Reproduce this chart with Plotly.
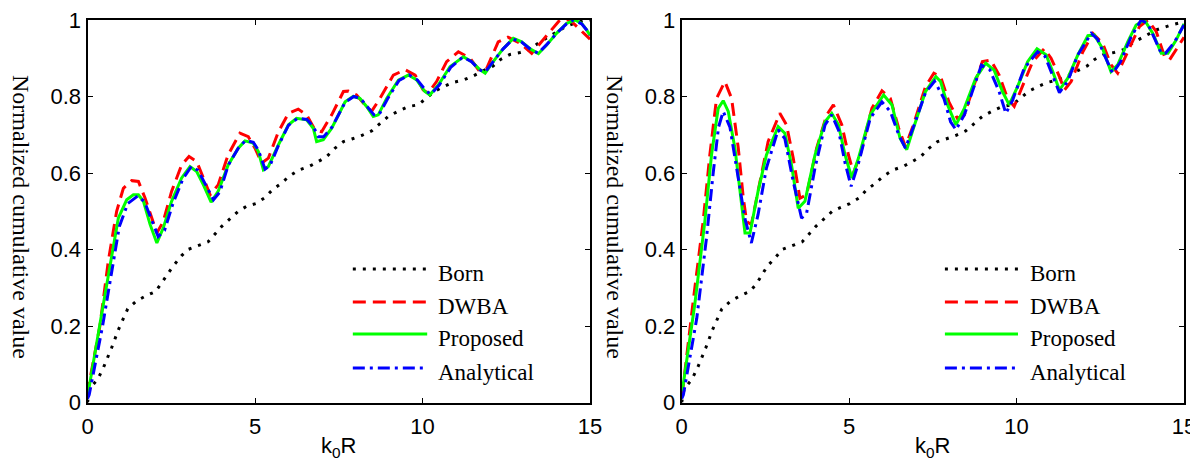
import plotly.graph_objects as go

# ---------------- data ----------------
# Left panel
born_k_l = [0, 0.07, 0.3, 0.47, 0.72, 0.92, 1.2, 1.47, 1.77, 2.03, 2.23, 2.56, 2.81, 3.0, 3.3, 3.6, 3.8, 4.0, 4.25, 4.5, 4.75,
            5.02, 5.3, 5.52, 5.8, 6.01, 6.31, 6.61, 6.89, 7.14, 7.39, 7.64, 7.89, 8.18, 8.48, 8.73, 8.98, 9.28, 9.58, 9.87,
            10.12, 10.37, 10.64, 10.92, 11.22, 11.52, 11.81, 12.11, 12.33, 12.61, 12.91, 13.21, 13.46, 13.75, 14.05, 14.3,
            14.6, 14.85, 15]
born_v_l = [0, 0.037, 0.06, 0.09, 0.143, 0.19, 0.245, 0.266, 0.28, 0.29, 0.315, 0.357, 0.384, 0.40, 0.41, 0.42, 0.44, 0.46,
            0.48, 0.50, 0.513, 0.52, 0.536, 0.556, 0.574, 0.591, 0.608, 0.617, 0.63, 0.643, 0.665, 0.682, 0.689, 0.698, 0.71,
            0.73, 0.748, 0.762, 0.774, 0.778, 0.795, 0.814, 0.826, 0.837, 0.843, 0.854, 0.867, 0.88, 0.897, 0.91, 0.915,
            0.923, 0.94, 0.955, 0.97, 0.984, 0.993, 1.0, 1.0]

dwba_k_l = [0, 0.03, 0.37, 0.62, 0.87, 1.07, 1.32, 1.52, 1.72, 1.92, 2.07, 2.26, 2.51, 2.81, 3.03, 3.26, 3.46, 3.66, 3.9, 4.2,
            4.55, 4.8, 5.0, 5.2, 5.4, 5.7, 6.0, 6.29, 6.54, 6.79, 6.99, 7.29, 7.64, 7.79, 8.03, 8.28, 8.48, 8.73, 9.13, 9.48,
            9.78, 10.02, 10.17, 10.42, 10.72, 11.07, 11.42, 11.67, 11.92, 12.26, 12.55, 12.9, 13.26, 13.71, 14.1, 14.4, 14.7,
            14.9, 15]
dwba_v_l = [0.02, 0.04, 0.20, 0.369, 0.50, 0.56, 0.58, 0.578, 0.534, 0.482, 0.443, 0.473, 0.552, 0.621, 0.643, 0.63, 0.587,
            0.543, 0.569, 0.648, 0.704, 0.695, 0.665, 0.626, 0.639, 0.708, 0.756, 0.767, 0.752, 0.713, 0.708, 0.752, 0.813,
            0.814, 0.804, 0.778, 0.761, 0.795, 0.856, 0.87, 0.856, 0.817, 0.809, 0.839, 0.891, 0.917, 0.9, 0.87, 0.874,
            0.943, 0.955, 0.94, 0.913, 0.96, 1.0, 1.0, 0.974, 0.957, 0.95]

prop_k_l = [0, 0.03, 0.42, 0.72, 0.92, 1.17, 1.37, 1.52, 1.67, 1.87, 2.07, 2.26, 2.51, 2.81, 3.06, 3.26, 3.46, 3.69, 3.9, 4.2,
            4.5, 4.7, 4.95, 5.1, 5.25, 5.4, 5.7, 6.0, 6.24, 6.54, 6.74, 6.84, 7.04, 7.29, 7.69, 7.93, 8.13, 8.33, 8.53, 8.68,
            8.93, 9.28, 9.58, 9.83, 10.07, 10.22, 10.47, 10.82, 11.22, 11.47, 11.72, 11.87, 12.11, 12.41, 12.71, 12.96, 13.21,
            13.46, 13.71, 14.0, 14.3, 14.55, 14.75, 14.9, 15]
prop_v_l = [0.02, 0.03, 0.23, 0.386, 0.482, 0.53, 0.543, 0.543, 0.526, 0.465, 0.417, 0.456, 0.526, 0.587, 0.617, 0.604, 0.569,
            0.524, 0.552, 0.621, 0.665, 0.684, 0.678, 0.656, 0.608, 0.617, 0.674, 0.726, 0.743, 0.739, 0.717, 0.682, 0.687,
            0.717, 0.786, 0.80, 0.795, 0.774, 0.748, 0.752, 0.795, 0.843, 0.856, 0.843, 0.813, 0.804, 0.83, 0.878, 0.904,
            0.891, 0.87, 0.861, 0.891, 0.925, 0.952, 0.943, 0.925, 0.912, 0.935, 0.965, 0.991, 1.0, 0.991, 0.974, 0.96]

anal_k_l = [0, 0.05, 0.45, 0.75, 0.95, 1.2, 1.5, 1.7, 1.9, 2.11, 2.3, 2.55, 2.85, 3.1, 3.3, 3.5, 3.76, 3.95, 4.2, 4.5, 4.72,
            4.95, 5.1, 5.3, 5.45, 5.7, 6.0, 6.27, 6.55, 6.75, 6.89, 7.05, 7.3, 7.69, 7.95, 8.15, 8.35, 8.55, 8.7, 8.95, 9.3,
            9.6, 9.85, 10.1, 10.25, 10.5, 10.85, 11.2, 11.45, 11.7, 11.87, 12.1, 12.4, 12.7, 12.95, 13.2, 13.45, 13.7, 14.0,
            14.3, 14.5, 14.75, 14.9, 15]
anal_v_l = [0.01, 0.02, 0.2, 0.36, 0.46, 0.52, 0.54, 0.525, 0.48, 0.434, 0.45, 0.52, 0.585, 0.617, 0.607, 0.575, 0.53, 0.55,
            0.62, 0.665, 0.685, 0.68, 0.66, 0.61, 0.62, 0.672, 0.725, 0.743, 0.74, 0.72, 0.695, 0.695, 0.72, 0.785, 0.80,
            0.795, 0.775, 0.752, 0.752, 0.793, 0.842, 0.856, 0.843, 0.815, 0.806, 0.83, 0.877, 0.903, 0.892, 0.87, 0.864,
            0.89, 0.924, 0.95, 0.943, 0.925, 0.913, 0.935, 0.965, 0.99, 1.0, 0.99, 0.974, 0.96]

# Right panel
born_k_r = [0, 0.07, 0.3, 0.47, 0.72, 0.92, 1.2, 1.47, 1.77, 2.03, 2.23, 2.56, 2.81, 3.0, 3.3, 3.6, 3.8, 4.0, 4.25, 4.5, 4.75,
            5.02, 5.3, 5.52, 5.8, 6.01, 6.31, 6.61, 6.89, 7.14, 7.39, 7.64, 7.89, 8.18, 8.48, 8.73, 8.98, 9.28, 9.58, 9.87,
            10.12, 10.37, 10.64, 10.92, 11.22, 11.52, 11.81, 12.11, 12.33, 12.61, 12.91, 13.21, 13.46, 13.82, 14.17, 14.62, 15]
born_v_r = [0, 0.035, 0.06, 0.09, 0.143, 0.19, 0.245, 0.266, 0.28, 0.29, 0.31, 0.357, 0.38, 0.40, 0.41, 0.42, 0.44, 0.46,
            0.48, 0.50, 0.51, 0.52, 0.535, 0.556, 0.574, 0.591, 0.608, 0.617, 0.63, 0.643, 0.665, 0.682, 0.689, 0.698, 0.71,
            0.73, 0.748, 0.762, 0.774, 0.778, 0.795, 0.814, 0.826, 0.837, 0.843, 0.854, 0.867, 0.88, 0.897, 0.91, 0.915,
            0.923, 0.94, 0.958, 0.974, 0.987, 0.995]

dwba_k_r = [0, 0.04, 0.35, 0.64, 0.84, 1.04, 1.29, 1.49, 1.69, 1.84, 1.94, 2.08, 2.34, 2.58, 2.93, 3.13, 3.33, 3.53, 3.73, 4.03,
            4.33, 4.53, 4.78, 4.98, 5.13, 5.33, 5.68, 5.98, 6.23, 6.48, 6.68, 6.92, 7.28, 7.53, 7.73, 7.98, 8.23, 8.44, 8.73,
            8.98, 9.23, 9.48, 9.73, 9.93, 10.13, 10.48, 10.83, 11.03, 11.28, 11.43, 11.63, 11.98, 12.28, 12.57, 12.82, 13.02,
            13.32, 13.67, 13.92, 14.17, 14.42, 14.57, 14.82, 15]
dwba_v_r = [0.02, 0.04, 0.27, 0.473, 0.647, 0.795, 0.839, 0.795, 0.665, 0.534, 0.473, 0.465, 0.578, 0.682, 0.756, 0.726, 0.639,
            0.534, 0.543, 0.665, 0.752, 0.778, 0.726, 0.647, 0.60, 0.647, 0.769, 0.815, 0.795, 0.717, 0.669, 0.726, 0.826,
            0.861, 0.852, 0.786, 0.743, 0.752, 0.83, 0.891, 0.895, 0.856, 0.795, 0.774, 0.817, 0.891, 0.925, 0.9, 0.852,
            0.817, 0.839, 0.917, 0.965, 0.939, 0.883, 0.861, 0.917, 0.983, 1.0, 0.97, 0.904, 0.896, 0.93, 0.955]

prop_k_r = [0, 0.04, 0.39, 0.69, 0.89, 1.09, 1.24, 1.39, 1.59, 1.78, 1.89, 2.04, 2.28, 2.53, 2.88, 3.08, 3.28, 3.48, 3.68, 3.98,
            4.28, 4.48, 4.68, 4.88, 5.08, 5.28, 5.63, 6.03, 6.28, 6.52, 6.72, 6.92, 7.28, 7.59, 7.73, 7.94, 8.19, 8.44, 8.78,
            9.08, 9.33, 9.58, 9.78, 10.03, 10.33, 10.61, 10.88, 11.08, 11.28, 11.53, 11.83, 12.13, 12.32, 12.57, 12.82, 13.02,
            13.32, 13.57, 13.82, 14.07, 14.32, 14.52, 14.77, 15]
prop_v_r = [0.03, 0.043, 0.256, 0.473, 0.647, 0.769, 0.789, 0.761, 0.665, 0.534, 0.443, 0.443, 0.552, 0.647, 0.721, 0.704,
            0.621, 0.508, 0.526, 0.647, 0.734, 0.756, 0.726, 0.647, 0.587, 0.639, 0.752, 0.804, 0.778, 0.691, 0.661, 0.717,
            0.813, 0.852, 0.839, 0.778, 0.726, 0.769, 0.848, 0.887, 0.869, 0.813, 0.778, 0.826, 0.891, 0.925, 0.909, 0.865,
            0.817, 0.848, 0.909, 0.959, 0.961, 0.925, 0.865, 0.883, 0.943, 0.987, 1.0, 0.965, 0.913, 0.913, 0.948, 0.99]

anal_k_r = [0, 0.05, 0.45, 0.74, 0.94, 1.1, 1.24, 1.44, 1.64, 1.89, 2.08, 2.28, 2.53, 2.88, 3.08, 3.33, 3.58, 3.73, 3.98, 4.28,
            4.48, 4.68, 4.88, 5.06, 5.28, 5.63, 5.98, 6.23, 6.48, 6.68, 6.92, 7.28, 7.55, 7.83, 8.03, 8.19, 8.44, 8.73, 8.95,
            9.2, 9.48, 9.68, 9.88, 10.23, 10.63, 10.85, 11.08, 11.28, 11.53, 11.83, 12.23, 12.42, 12.62, 12.87, 13.1, 13.42,
            13.72, 13.92, 14.12, 14.32, 14.45, 14.72, 15]
anal_v_r = [0.01, 0.02, 0.22, 0.43, 0.6, 0.72, 0.761, 0.72, 0.613, 0.48, 0.417, 0.491, 0.613, 0.713, 0.69, 0.578, 0.482, 0.495,
            0.613, 0.726, 0.752, 0.713, 0.626, 0.565, 0.626, 0.743, 0.786, 0.761, 0.70, 0.665, 0.72, 0.81, 0.84, 0.795, 0.734,
            0.713, 0.752, 0.826, 0.882, 0.87, 0.813, 0.756, 0.79, 0.874, 0.917, 0.905, 0.852, 0.81, 0.84, 0.909, 0.965, 0.95,
            0.909, 0.861, 0.89, 0.956, 1.0, 0.99, 0.952, 0.913, 0.913, 0.943, 0.987]

series_names = ["Born", "DWBA", "Proposed", "Analytical"]
x_ticks = [0, 5, 10, 15]
y_ticks = [0, 0.2, 0.4, 0.6, 0.8, 1]
x_title = "k<sub>0</sub>R"
y_title = "Normalized cumulative value"

# ---------------- styles ----------------
styles = {
    "Born": dict(color="black", width=3, dash="3px,7px"),
    "DWBA": dict(color="#ff0000", width=3, dash="13px,7px"),
    "Proposed": dict(color="#00ff00", width=3, dash="solid"),
    "Analytical": dict(color="#0000ff", width=3, dash="12px,5px,3px,5px"),
}

panels = [
    ("x", "y", {"Born": (born_k_l, born_v_l), "DWBA": (dwba_k_l, dwba_v_l),
                "Proposed": (prop_k_l, prop_v_l), "Analytical": (anal_k_l, anal_v_l)}),
    ("x2", "y2", {"Born": (born_k_r, born_v_r), "DWBA": (dwba_k_r, dwba_v_r),
                  "Proposed": (prop_k_r, prop_v_r), "Analytical": (anal_k_r, anal_v_r)}),
]

fig = go.Figure()
for xa, ya, data in panels:
    for name in series_names:
        kx, vy = data[name]
        fig.add_trace(go.Scatter(x=kx, y=vy, mode="lines", name=name, xaxis=xa, yaxis=ya,
                                 line=styles[name], showlegend=False))

# The page body has an 8px default margin, so the figure is placed 8px in from the window corner.
OFF = 8
W, H = 1198 - OFF, 459 - OFF


def px_x(x):
    return (x - OFF) / W


def px_y(y):
    return (H - (y - OFF)) / H


left_dom = [px_x(87.5), px_x(590)]
right_dom = [px_x(681.7), px_x(1184)]
y_dom = [px_y(402.5), px_y(20)]

axis_common = dict(showline=True, linecolor="black", linewidth=2, mirror="ticks", ticks="inside",
                   ticklen=5, tickwidth=1, tickcolor="black", showgrid=False, zeroline=False,
                   automargin=False, ticklabeloverflow="allow",
                   tickfont=dict(family="Liberation Sans, Arial", size=22, color="black"))

fig.update_layout(
    width=W, height=H, margin=dict(l=0, r=0, t=0, b=0, pad=0, autoexpand=False),
    paper_bgcolor="white", plot_bgcolor="white", showlegend=False,
    xaxis=dict(domain=left_dom, range=[0, 15], tickvals=x_ticks, anchor="y", ticklabelstandoff=3, **axis_common),
    yaxis=dict(domain=y_dom, range=[0, 1], tickvals=y_ticks, anchor="x", **axis_common),
    xaxis2=dict(domain=right_dom, range=[0, 15], tickvals=x_ticks, anchor="y2", ticklabelstandoff=3, **axis_common),
    yaxis2=dict(domain=y_dom, range=[0, 1], tickvals=y_ticks, anchor="x2", **axis_common),
)

# axis titles
serif = "Liberation Serif, Times New Roman"
sans = "Liberation Sans, Arial"
annotations = []
for xd, ycenter_px in [(left_dom, 21), (right_dom, 615)]:
    annotations.append(dict(text=y_title, xref="paper", yref="paper", x=px_x(ycenter_px), y=px_y(217),
                            textangle=90, showarrow=False, xanchor="center", yanchor="middle",
                            font=dict(family=serif, size=24, color="black")))
    annotations.append(dict(text=x_title, xref="paper", yref="paper", x=(xd[0] + xd[1]) / 2, y=px_y(447),
                            showarrow=False, xanchor="center", yanchor="middle",
                            font=dict(family=sans, size=22, color="black")))

# manual legends (inside lower right of each panel)
shapes = []
legend_rows = [0.349, 0.2627, 0.179, 0.090]
for xr, x0, x1, xt in [("x domain", 0.528, 0.676, 0.694), ("x2 domain", 0.524, 0.6695, 0.6895)]:
    yr = "y domain" if xr == "x domain" else "y2 domain"
    for name, yy in zip(series_names, legend_rows):
        st = styles[name]
        shapes.append(dict(type="line", xref=xr, yref=yr, x0=x0, x1=x1, y0=yy, y1=yy,
                           line=dict(color=st["color"], width=st["width"], dash=st["dash"])))
        annotations.append(dict(text=name, xref=xr, yref=yr, x=xt, y=yy - 0.012, xanchor="left", yanchor="middle",
                                showarrow=False, font=dict(family=serif, size=23, color="black")))

fig.update_layout(annotations=annotations, shapes=shapes)
fig.write_html("out.html")
